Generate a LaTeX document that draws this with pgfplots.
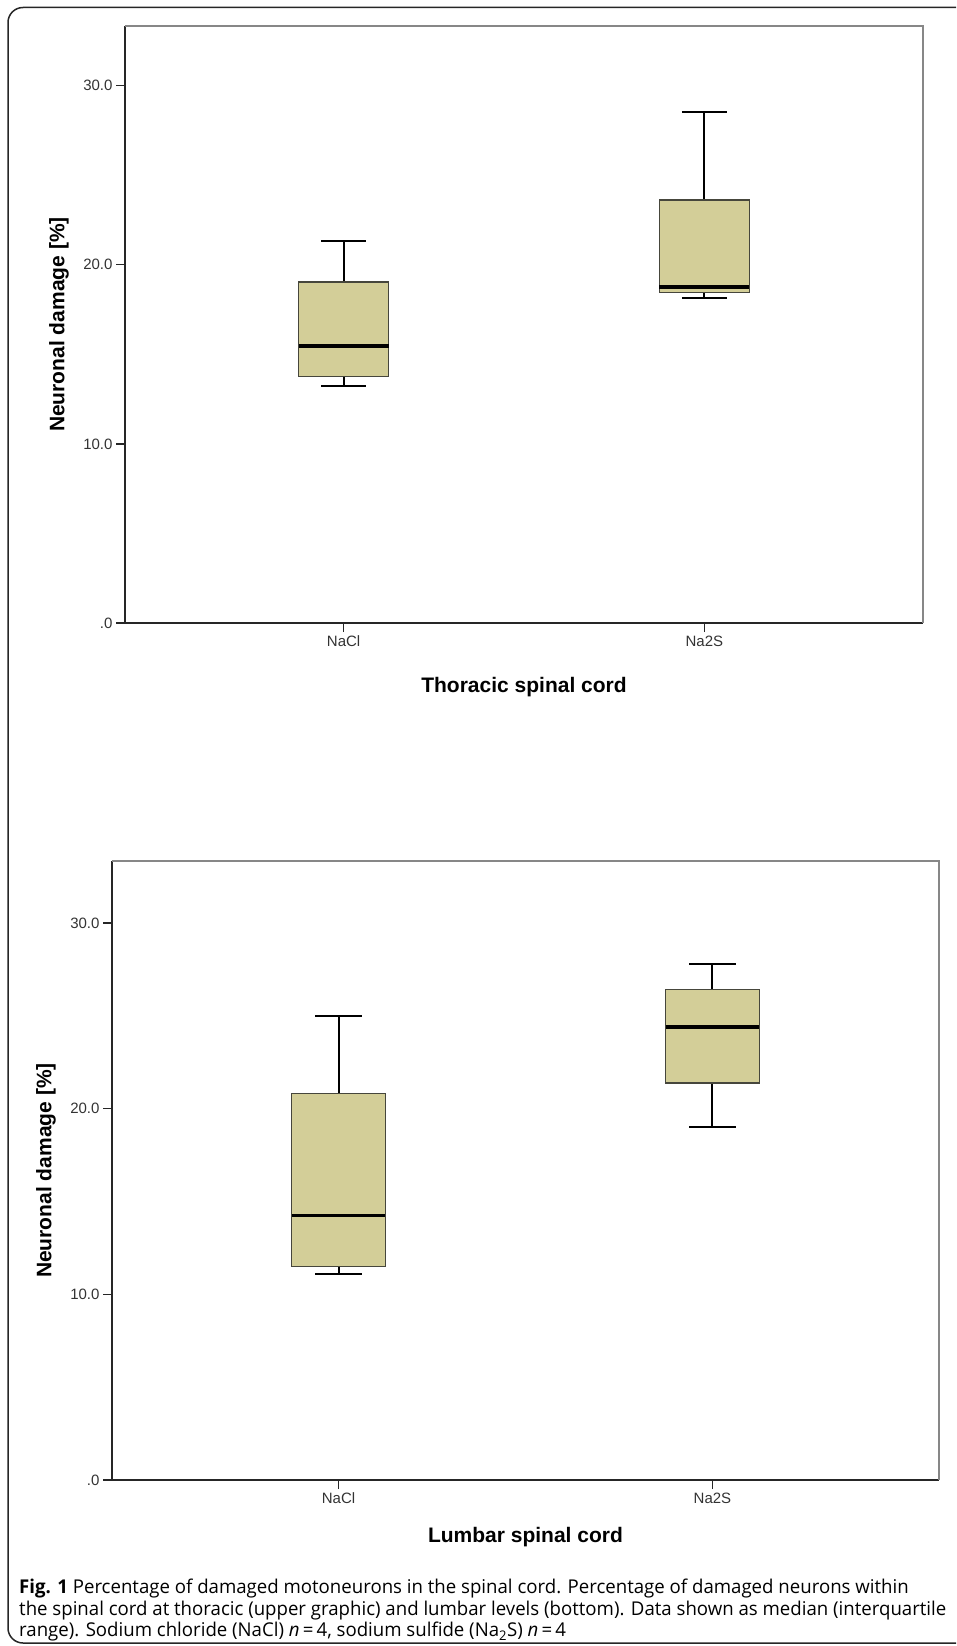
\documentclass[border=0pt]{standalone}
\usepackage{fontspec}
\setmainfont{Liberation Sans}
\newfontfamily\capfont[FakeStretch=0.98]{Open Sans}
\usepackage{pgfplots}
\pgfplotsset{compat=1.18}

\definecolor{boxfill}{RGB}{211,206,152}
\definecolor{boxedge}{RGB}{70,70,60}
\definecolor{frametwo}{RGB}{135,135,135}

\pgfplotsset{
 spss/.style={
  scale only axis,
  clip=false,
  axis x line*=bottom, axis y line*=left,
  axis line style={line width=1.3pt, black!85, -},
  xmin=0.394, xmax=2.606, ymin=0, ymax=33.33,
  xtick={1,2}, xticklabels={NaCl,Na2S},
  ytick={0,10,20,30}, yticklabels={.0,10.0,20.0,30.0},
  tick align=outside, major tick length=9pt,
  tick style={line width=1.3pt, black!85},
  ticklabel style={font=\fontsize{15}{18}\selectfont, text=black!80},
 },
 whisk/.style={black, line width=2pt, unbounded coords=jump, mark=none},
 bx/.style={fill=boxfill, draw=boxedge, line width=1.2pt, mark=none},
 med/.style={black, line width=3.5pt, mark=none},
}

\begin{document}
\begin{tikzpicture}
\useasboundingbox (0pt,0pt) rectangle (956pt,-1646pt);
\begin{scope}
\clip (0pt,0pt) rectangle (956pt,-1646pt);
\draw[line width=1.5pt, black!85, rounded corners=15pt] (8pt,-7.5pt) rectangle (1000pt,-1643pt);
\end{scope}

% ---- top: thoracic spinal cord
% NaCl: lower whisker 13.24, Q1 13.74, median 15.47, Q3 19.04, upper whisker 21.35
% Na2S: lower whisker 18.16, Q1 18.44, median 18.75, Q3 23.62, upper whisker 28.52
\begin{axis}[spss, at={(125pt,-623pt)}, anchor=south west, width=798pt, height=597pt]
\addplot[whisk] coordinates {(1,19.04) (1,21.35) (nan,nan) (0.9375,21.35) (1.0625,21.35) (nan,nan) (1,13.74) (1,13.24) (nan,nan) (0.9375,13.24) (1.0625,13.24)};
\addplot[bx] coordinates {(0.875,13.74) (1.125,13.74) (1.125,19.04) (0.875,19.04)} --cycle;
\addplot[med] coordinates {(0.875,15.47) (1.125,15.47)};
\addplot[whisk] coordinates {(2,23.62) (2,28.52) (nan,nan) (1.9375,28.52) (2.0625,28.52) (nan,nan) (2,18.44) (2,18.16) (nan,nan) (1.9375,18.16) (2.0625,18.16)};
\addplot[bx] coordinates {(1.875,18.44) (2.125,18.44) (2.125,23.62) (1.875,23.62)} --cycle;
\addplot[med] coordinates {(1.875,18.75) (2.125,18.75)};
\draw[frametwo, line width=1.3pt] (rel axis cs:0,1) -- (rel axis cs:1,1) -- (rel axis cs:1,0);
\end{axis}
\node[rotate=90, font=\bfseries\fontsize{21}{25}\selectfont] at (59pt,-324.5pt) {Neuronal damage [\%]};
\node[font=\bfseries\fontsize{21}{25}\selectfont] at (524pt,-687pt) {Thoracic spinal cord};

% ---- bottom: lumbar spinal cord
% NaCl: lower whisker 11.09, Q1 11.48, median 14.23, Q3 20.81, upper whisker 25.01
% Na2S: lower whisker 19.00, Q1 21.38, median 24.40, Q3 26.41, upper whisker 27.79
\begin{axis}[spss, at={(112pt,-1480pt)}, anchor=south west, width=827pt, height=619pt]
\addplot[whisk] coordinates {(1,20.81) (1,25.01) (nan,nan) (0.9375,25.01) (1.0625,25.01) (nan,nan) (1,11.48) (1,11.09) (nan,nan) (0.9375,11.09) (1.0625,11.09)};
\addplot[bx] coordinates {(0.875,11.48) (1.125,11.48) (1.125,20.81) (0.875,20.81)} --cycle;
\addplot[med] coordinates {(0.875,14.23) (1.125,14.23)};
\addplot[whisk] coordinates {(2,26.41) (2,27.79) (nan,nan) (1.9375,27.79) (2.0625,27.79) (nan,nan) (2,21.38) (2,19.00) (nan,nan) (1.9375,19.00) (2.0625,19.00)};
\addplot[bx] coordinates {(1.875,21.38) (2.125,21.38) (2.125,26.41) (1.875,26.41)} --cycle;
\addplot[med] coordinates {(1.875,24.40) (2.125,24.40)};
\draw[frametwo, line width=1.3pt] (rel axis cs:0,1) -- (rel axis cs:1,1) -- (rel axis cs:1,0);
\end{axis}
\node[rotate=90, font=\bfseries\fontsize{21}{25}\selectfont] at (46pt,-1170.5pt) {Neuronal damage [\%]};
\node[font=\bfseries\fontsize{21}{25}\selectfont] at (525.5pt,-1537pt) {Lumbar spinal cord};

% ---- caption
\node[anchor=north west, align=left, inner sep=0pt, font=\capfont\fontsize{19}{21.3}\selectfont] at (19pt,-1579pt)
{\textbf{Fig. 1} Percentage of damaged motoneurons in the spinal cord. Percentage of damaged neurons within\\
the spinal cord at thoracic (upper graphic) and lumbar levels (bottom). Data shown as median (interquartile\\
range). Sodium chloride (NaCl) \textit{n}\,=\,4, sodium sulfide (Na\textsubscript{2}S) \textit{n}\,=\,4};
\end{tikzpicture}
\end{document}
